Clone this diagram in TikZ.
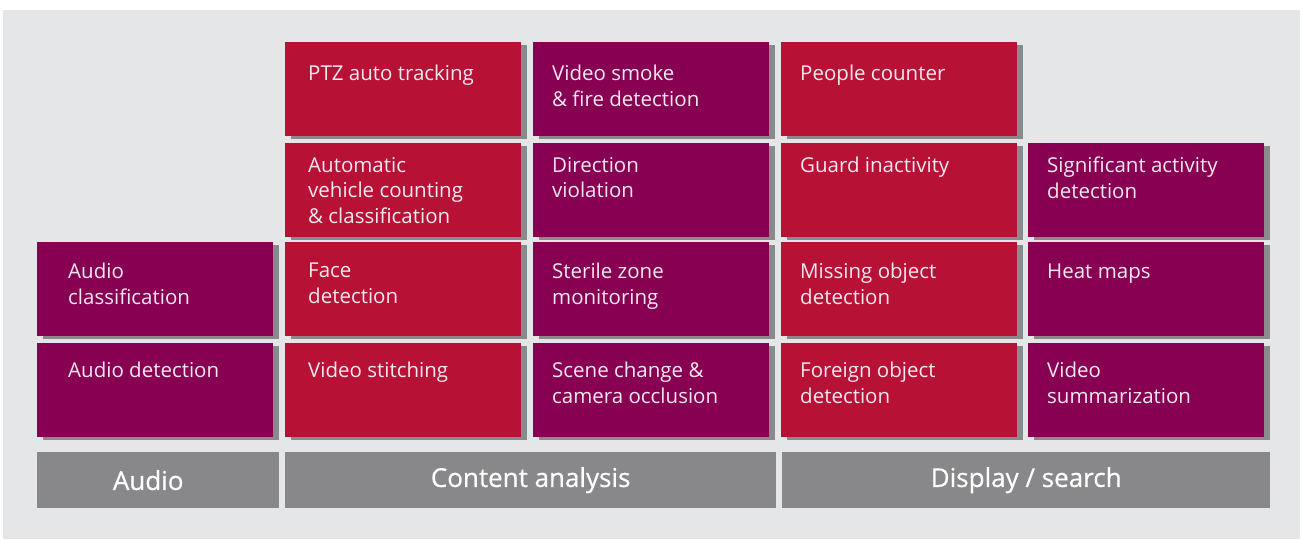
\documentclass[tikz,border=0pt]{standalone}
\usepackage{fontspec}
\setmainfont{Open Sans}
\usetikzlibrary{shadows}
\definecolor{bgGray}{RGB}{229,230,232}
\definecolor{boxRed}{RGB}{183,18,54}
\definecolor{boxPurple}{RGB}{136,0,82}
\definecolor{barGray}{RGB}{136,136,138}
\definecolor{shadowGray}{RGB}{138,138,140}
\definecolor{txtWhite}{RGB}{246,232,240}

\begin{document}
\begin{tikzpicture}[x=1pt,y=-1pt,
    box/.style={anchor=north west,minimum width=236pt,minimum height=94pt,inner sep=0pt,
      drop shadow={shadow xshift=6pt,shadow yshift=-3pt,fill=shadowGray,opacity=1}},
    redbox/.style={box,fill=boxRed},
    purplebox/.style={box,fill=boxPurple},
    txt/.style={anchor=north west,align=left,inner sep=0pt,text=txtWhite,yshift=18pt,
      font=\fontsize{20.5}{25.5}\selectfont,execute at begin node={\strut}},
    txtml/.style={txt,yshift=-3pt},
    catbar/.style={anchor=north west,minimum height=56pt,inner sep=0pt,fill=barGray,
      text=white,font=\fontsize{26}{30}\selectfont\addfontfeatures{FakeBold=0.6}}]
    % background
    \fill[white] (0,0) rectangle (1303,539);
    \fill[bgGray] (3,10) rectangle (1300,539);

    % row 1
    \node[redbox]    (ptz)    at (285,42) {};
    \node[purplebox] (smoke)  at (533,42) {};
    \node[redbox]    (people) at (781,42) {};
    % row 2
    \node[redbox]    (vehicle)   at (285,143) {};
    \node[purplebox] (direction) at (533,143) {};
    \node[redbox]    (guard)     at (781,143) {};
    \node[purplebox] (activity)  at (1028,143) {};
    % row 3
    \node[purplebox] (audioclass) at (37,242) {};
    \node[redbox]    (face)       at (285,242) {};
    \node[purplebox] (sterile)    at (533,242) {};
    \node[redbox]    (missing)    at (781,242) {};
    \node[purplebox] (heat)       at (1028,242) {};
    % row 4
    \node[purplebox] (audiodet)  at (37,343) {};
    \node[redbox]    (stitching) at (285,343) {};
    \node[purplebox] (scene)     at (533,343) {};
    \node[redbox]    (foreign)   at (781,343) {};
    \node[purplebox] (summary)   at (1028,343) {};

    % texts (placed at the baseline of the first line)
    \node[txt]   (t-ptz)    at (308,80) {PTZ auto tracking};
    \node[txtml] (t-smoke)  at (552,80) {Video smoke\\\& fire detection};
    \node[txt]   (t-people) at (800,80) {People counter};

    \node[txtml] (t-vehicle)   at (308,172) {Automatic\\vehicle counting\\\& classification};
    \node[txtml] (t-direction) at (552,172) {Direction\\violation};
    \node[txt]   (t-guard)     at (800,172) {Guard inactivity};
    \node[txtml] (t-activity)  at (1047,172) {Significant activity\\detection};

    \node[txtml] (t-audioclass) at (68,278) {Audio\\classification};
    \node[txtml] (t-face)       at (308,278) {Face\\detection};
    \node[txtml] (t-sterile)    at (552,278) {Sterile zone\\monitoring};
    \node[txtml] (t-missing)    at (800,278) {Missing object\\detection};
    \node[txt]   (t-heat)       at (1047,278) {Heat maps};

    \node[txt]   (t-audiodet)  at (68,377) {Audio detection};
    \node[txt]   (t-stitching) at (308,377) {Video stitching};
    \node[txtml] (t-scene)     at (552,377) {Scene change \&\\camera occlusion};
    \node[txtml] (t-foreign)   at (800,377) {Foreign object\\detection};
    \node[txtml] (t-summary)   at (1047,377) {Video\\summarization};

    % category bars
    \node[catbar,minimum width=242pt] (audio)   at (37,452)  {Audio\kern20pt};
    \node[catbar,minimum width=491pt] (content) at (285,452) {Content analysis};
    \node[catbar,minimum width=488pt] (display) at (782,452) {Display / search};
\end{tikzpicture}
\end{document}
